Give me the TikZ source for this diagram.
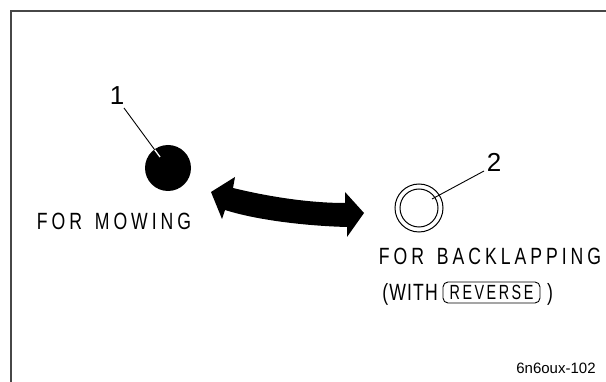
\documentclass[tikz,border=0pt]{standalone}
\usepackage{fontspec}
\setmainfont{Liberation Sans}
\usetikzlibrary{calc}
\makeatletter
\newcommand\lsp[2]{\@tfor\lsp@x:=#2\do{\lsp@x\kern#1}\unkern}
\makeatother
\newcommand\labtext[2]{\scalebox{0.75}[1]{\lsp{#1}{#2}}}
\tikzset{
  lab/.style={font=\fontsize{23.5}{23.5}\selectfont, inner sep=0pt},
  num/.style={font=\fontsize{26}{26}\selectfont, inner sep=0pt},
  leader/.style={line width=0.9pt},
}
\begin{document}
\begin{tikzpicture}[x=1pt,y=-1pt]
\useasboundingbox (0,0) rectangle (606,382);
% frame
\coordinate (fb) at (11,382);
\coordinate (fc) at (11,11);
\coordinate (fr) at (606,11);
\draw[line width=2pt, black!72] (fb) -- (fc) -- (fr);
% item 1
\node[circle, fill=black, minimum size=46pt, inner sep=0pt] (c1) at (168,168) {};
\node[num] (n1) at (117,96) {1};
\coordinate (a1) at (124,108);
\coordinate (p1) at (160,157);
\draw[leader] (a1) -- (p1);
\begin{scope}
\clip (c1.center) circle (22.5);
\draw[white, line width=1.3pt] (a1) -- (p1);
\end{scope}
\node[lab] (t1) at (114,221) {\labtext{5.3pt}{FOR~MOWING}};
% item 2
\node[circle, draw, line width=1pt, minimum size=48pt, inner sep=0pt] (c2) at (419,208) {};
\node[circle, draw, line width=1pt, minimum size=38pt, inner sep=0pt] (c2i) at (c2.center) {};
\node[num] (n2) at (494,162) {2};
\coordinate (a2) at (484,171);
\coordinate (p2) at (432,199);
\draw[leader] (a2) -- (p2);
\node[lab] (t2) at (490,256) {\labtext{5.3pt}{FOR~BACKLAPPING}};
\node[lab, anchor=east] (w) at (438,294) {\labtext{1.5pt}{(WITH}};
\node[draw, rounded corners=5pt, line width=0.9pt, minimum width=97pt, minimum height=21pt, inner sep=0pt,
      font=\fontsize{20.5}{20.5}\selectfont] (rev) at (491.5,292.5) {\scalebox{0.7}[1]{\lsp{3.6pt}{REVERSE}}};
\node[lab] (cp) at (550,294) {\scalebox{0.75}[1]{)}};
% double arrow
\fill (211,192) -- (235,177) -- (233,188)
  .. controls (270,197) and (310,203) .. (345,203)
  -- (345,192) -- (364,213) -- (347,237) -- (347,227)
  .. controls (310,226) and (260,221) .. (225,210)
  -- (222,219) -- cycle;
% figure id
\node[font=\fontsize{15}{15}\selectfont, inner sep=0pt] (id) at (556,368) {6n6oux-102};
\end{tikzpicture}
\end{document}
